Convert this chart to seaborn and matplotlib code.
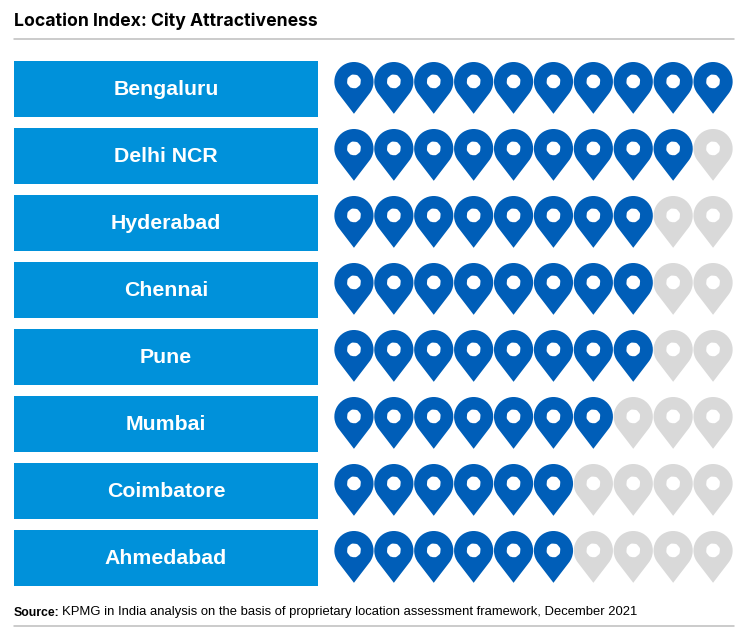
import numpy as np
import pandas as pd
import matplotlib
matplotlib.use("Agg")
import matplotlib.pyplot as plt
from matplotlib.path import Path
import seaborn as sns

# ---- data ----
cities = ["Bengaluru", "Delhi NCR", "Hyderabad", "Chennai", "Pune", "Mumbai", "Coimbatore", "Ahmedabad"]
scores = [10, 9, 8, 8, 8, 7, 6, 6]
max_score = 10
label_band = [1, 1, 1, 1, 1, 1, 1, 1]
title = "Location Index: City Attractiveness"
source_bold = "Source:"
source_text = "KPMG in India analysis on the basis of proprietary location assessment framework, December 2021"

W, H, DPI = 745, 634, 100
BLUE, DARK, GREY, RULE = "#0091DA", "#005EB8", "#D9D9D9", "#BDBDBD"
FONT = "Liberation Sans"

sns.set_theme(style="white", rc={"font.family": FONT})


def px_axes(fig, x0, x1, y0, y1):
    return fig.add_axes([x0 / W, 1 - y1 / H, (x1 - x0) / W, (y1 - y0) / H])


def pin_path():
    """Map pin (pixel units): round head, straight tangent sides, round hole."""
    r, hole, head_y, tip_y = 19.6, 6.8, 7.4, -24.8
    d = head_y - tip_y
    a = np.degrees(np.arccos(r / d))
    outer = Path.arc(-90 + a, 270 - a)
    v = outer.vertices * r + [0, head_y]
    verts = list(v) + [[0, tip_y], v[0]]
    codes = list(outer.codes) + [Path.LINETO, Path.CLOSEPOLY]
    inner = Path.unit_circle()
    iv = inner.vertices[::-1] * hole + [0, head_y + 0.2]
    icodes = [Path.MOVETO] + list(inner.codes[1:-1]) + [Path.CLOSEPOLY]
    return Path(np.vstack([verts, iv]), codes + icodes)


fig = plt.figure(figsize=(W / DPI, H / DPI), dpi=DPI, facecolor="white")

# left: city labels
ax_l = px_axes(fig, 14, 318, 55.5, 591.5)
sns.barplot(x=label_band, y=cities, orient="h", color=BLUE, saturation=1,
            width=56 / 67, linewidth=0, ax=ax_l)
ax_l.set_xlim(0, 1)
ax_l.set_ylim(len(cities) - 0.5, -0.5)
for i, city in enumerate(cities):
    ax_l.annotate(city, (0.5, i), xytext=(0, -0.7), textcoords="offset points",
                  ha="center", va="center", color="white", fontsize=15.3, fontweight="bold")
ax_l.axis("off")

# right: pins
pins = pd.DataFrame(
    [{"city": c, "pin": p, "state": "on" if p <= s else "off"}
     for c, s in zip(cities, scores) for p in range(1, max_score + 1)]
)
path = pin_path()
extent = np.abs(path.vertices).max()
marker = Path(path.vertices / extent, path.codes)
size_pt = 2 * extent * 72 / DPI

ax_r = px_axes(fig, 334, 733, 55.5, 591.5)
sns.scatterplot(data=pins, x="pin", y="city", hue="state",
                palette={"on": DARK, "off": GREY}, hue_order=["off", "on"],
                marker=marker, s=size_pt ** 2, linewidth=0, legend=False,
                ax=ax_r, zorder=3, clip_on=False)
ax_r.set_xlim(0.5, max_score + 0.5)
ax_r.set_ylim(len(cities) - 0.5, -0.5)
ax_r.axis("off")

# header and footer
fig.text(14 / W, 1 - 26 / H, title, fontsize=12.7, fontweight="bold", color="black",
         ha="left", va="baseline", family="Inter")
fig.add_artist(plt.Line2D([14 / W, 734 / W], [1 - 39 / H] * 2, color=RULE, lw=1.1))
fig.text(14 / W, 1 - 615.5 / H, source_bold, fontsize=8.8, fontweight="bold",
         color="black", ha="left", va="baseline", family=FONT)
fig.text(62 / W, 1 - 615.5 / H, source_text, fontsize=9.4, color="black",
         ha="left", va="baseline", family=FONT)
fig.add_artist(plt.Line2D([14 / W, 734 / W], [1 - 626 / H] * 2, color=RULE, lw=1.1))

fig.savefig("out.png", dpi=DPI, facecolor="white")
